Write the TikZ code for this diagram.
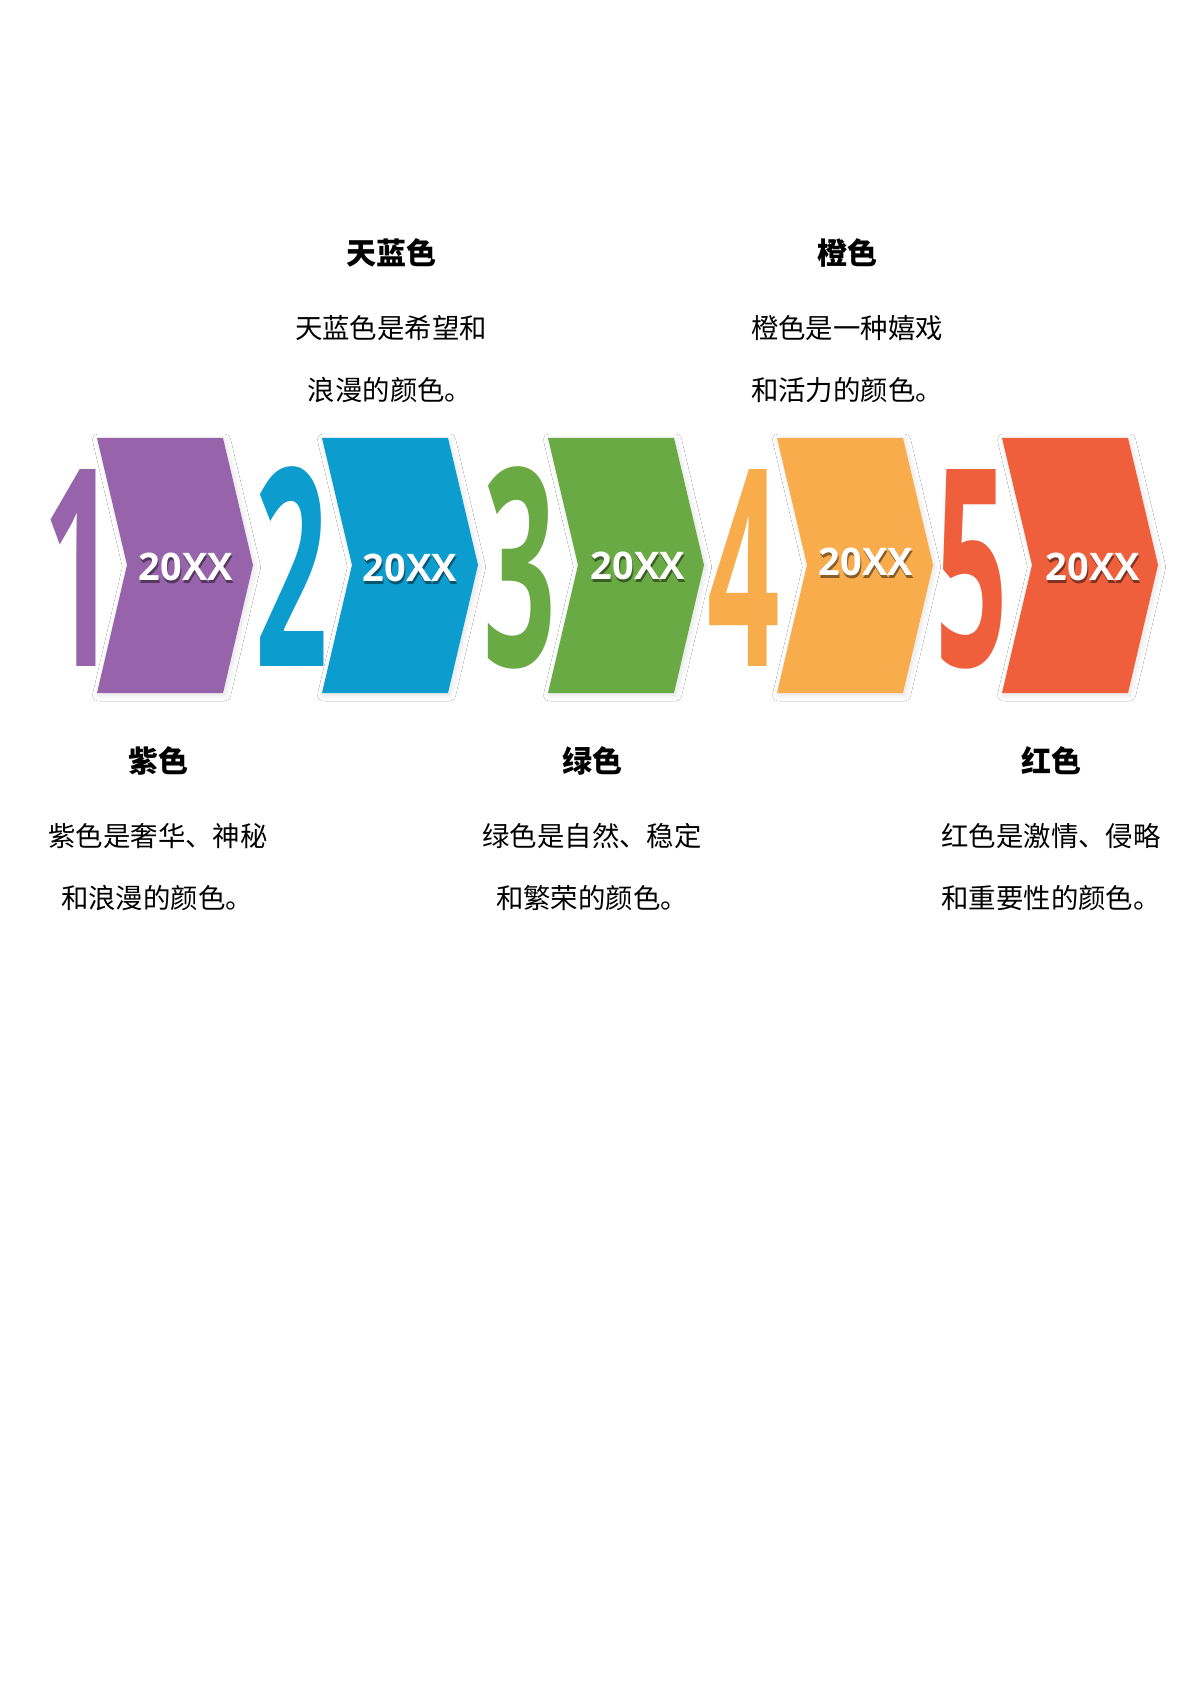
\documentclass[tikz,border=0pt]{standalone}
\usepackage{fontspec}
\usepackage{graphicx}
\usetikzlibrary{shadows.blur}

\newfontfamily\cjk{Noto Sans CJK SC}
\newfontfamily\sansfont{Open Sans}

\definecolor{chevpurple}{HTML}{9763AB}
\definecolor{chevblue}{HTML}{0C9CCE}
\definecolor{chevgreen}{HTML}{6AAA44}
\definecolor{chevorange}{HTML}{F8AC4B}
\definecolor{chevred}{HTML}{EF5F3C}

\tikzset{
  chevron/.style={blur shadow={shadow xshift=0.8pt,shadow yshift=-1pt,shadow blur steps=16,shadow blur radius=3pt,shadow opacity=12}},
  bignum/.style={anchor=base,inner sep=0pt,font=\sansfont\bfseries\fontsize{138}{138}\selectfont},
  year/.style={inner sep=0pt,text=white,font=\sansfont\bfseries\fontsize{19}{19}\selectfont},
  ctitle/.style={inner sep=0pt,font=\cjk\bfseries\fontsize{15}{15}\selectfont},
  cbody/.style={inner sep=0pt,font=\cjk\fontsize{13.7}{13.7}\selectfont},
}
\newcommand{\narrownum}[1]{\scalebox{0.46}[1]{#1}}
% white year with a darker copy under it
\newcommand{\yeartext}[1]{\rlap{\raisebox{-1.3pt}[0pt][0pt]{\hspace{0.5pt}\textcolor{#1!55!black}{20XX}}}20XX}

\begin{document}
\begin{tikzpicture}[x=0.5pt,y=-0.5pt]

%page
\useasboundingbox[fill=white] (0,0) rectangle (1191,1684);

%chevrons
\fill[chevpurple,chevron] (97,438) -- ++(126,0) -- ++(30,127) -- ++(-30,128) -- ++(-126,0) -- ++(30,-128) -- cycle;
\fill[chevblue,chevron] (322,438) -- ++(126,0) -- ++(30,127) -- ++(-30,128) -- ++(-126,0) -- ++(30,-128) -- cycle;
\fill[chevgreen,chevron] (548,438) -- ++(126,0) -- ++(30,127) -- ++(-30,128) -- ++(-126,0) -- ++(30,-128) -- cycle;
\fill[chevorange,chevron] (777,438) -- ++(126,0) -- ++(30,127) -- ++(-30,128) -- ++(-126,0) -- ++(30,-128) -- cycle;
\fill[chevred,chevron] (1002,438) -- ++(126,0) -- ++(30,127) -- ++(-30,128) -- ++(-126,0) -- ++(30,-128) -- cycle;

%big numbers
\node[bignum,text=chevpurple] (num1) at (80,666) {\narrownum{1}};
\node[bignum,text=chevblue] (num2) at (292,666) {\narrownum{2}};
\node[bignum,text=chevgreen] (num3) at (520,666) {\narrownum{3}};
\node[bignum,text=chevorange] (num4) at (744,666) {\narrownum{4}};
\node[bignum,text=chevred] (num5) at (972,666) {\narrownum{5}};

%years
\node[year] (year1) at (186,567) {\yeartext{chevpurple}};
\node[year] (year2) at (410,568) {\yeartext{chevblue}};
\node[year] (year3) at (638,566) {\yeartext{chevgreen}};
\node[year] (year4) at (866,562) {\yeartext{chevorange}};
\node[year] (year5) at (1093,567) {\yeartext{chevred}};

%labels above
\node[ctitle] (title2) at (391,253) {天蓝色};
\node[cbody] (body2a) at (391,328) {天蓝色是希望和};
\node[cbody] (body2b) at (390,390) {浪漫的颜色。};

\node[ctitle] (title4) at (847,253) {橙色};
\node[cbody] (body4a) at (847,328) {橙色是一种嬉戏};
\node[cbody] (body4b) at (847,390) {和活力的颜色。};

%labels below
\node[ctitle] (title1) at (158,761) {紫色};
\node[cbody] (body1a) at (158,836) {紫色是奢华、神秘};
\node[cbody] (body1b) at (157,898) {和浪漫的颜色。};

\node[ctitle] (title3) at (592,761) {绿色};
\node[cbody] (body3a) at (592,836) {绿色是自然、稳定};
\node[cbody] (body3b) at (592,898) {和繁荣的颜色。};

\node[ctitle] (title5) at (1051,761) {红色};
\node[cbody] (body5a) at (1051,836) {红色是激情、侵略};
\node[cbody] (body5b) at (1051,898) {和重要性的颜色。};

\end{tikzpicture}
\end{document}
